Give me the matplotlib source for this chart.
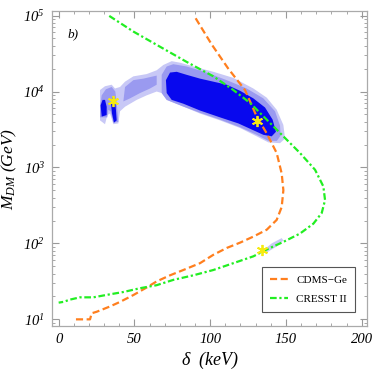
import matplotlib
matplotlib.use("Agg")
import matplotlib.pyplot as plt
import numpy as np

plt.rcParams['font.family'] = ['Liberation Serif', 'DejaVu Serif']
plt.rcParams['mathtext.fontset'] = 'custom'
plt.rcParams['mathtext.rm'] = 'Liberation Serif:italic'
plt.rcParams['mathtext.it'] = 'Liberation Serif:italic'

# ---- exclusion curves (delta in keV, M_DM in GeV) ----
cdms_delta = [90.4, 101, 112, 123, 130.7, 137.3, 143.9, 147.2, 148.3, 147.2, 143.9, 137.3,
              128.5, 119.7, 110.9, 102.1, 93.3, 82.3, 73.5, 64.7, 58.1, 49.3, 40.5, 33.9,
              25.1, 21.8, 20.7, 9.2]
cdms_logM = [4.965, 4.62, 4.30, 4.02, 3.67, 3.45, 3.19, 2.92, 2.70, 2.48, 2.31, 2.18,
             2.09, 2.01, 1.94, 1.85, 1.74, 1.65, 1.58, 1.50, 1.42, 1.32, 1.23, 1.17,
             1.10, 1.08, 1.00, 1.00]

cresst_delta = [33.4, 49.3, 66.9, 84.5, 102.1, 115.3, 126.3, 137.3, 148.3, 159.3, 169.2,
                174.7, 175.8, 173.6, 168.1, 159.3, 148.3, 137.3, 128.5, 115.3, 102.1, 88.9,
                75.7, 64.7, 53.7, 42.7, 33.9, 22.9, 14.1, 7.5, 3.1, 0.0]
cresst_logM = [4.996, 4.79, 4.59, 4.39, 4.20, 4.02, 3.85, 3.63, 3.41, 3.19, 2.97,
               2.75, 2.57, 2.40, 2.26, 2.13, 2.02, 1.92, 1.83, 1.74, 1.65, 1.58,
               1.52, 1.45, 1.41, 1.36, 1.33, 1.29, 1.29, 1.26, 1.23, 1.22]

# ---- allowed regions (contours): light (outer), medium, dark ----
outer_delta = [27.3, 27.3, 30.6, 35.0, 37.2, 40.5, 43.8, 49.3, 58.1, 64.7, 69.1, 74.6, 80.1,
               88.9, 102.1, 115.3, 128.5, 137.3, 143.9, 148.3, 149.4, 146.1, 138.4, 130.7,
               119.7, 106.5, 93.3, 80.1, 71.3, 68.0, 64.7, 58.1, 51.5, 43.8, 40.5, 39.4,
               36.1, 33.9, 32.1, 30.6]
outer_logM = [3.62, 4.02, 4.07, 4.09, 4.04, 4.06, 4.13, 4.20, 4.23, 4.28, 4.35, 4.40, 4.38,
              4.33, 4.26, 4.18, 4.04, 3.92, 3.76, 3.56, 3.38, 3.32, 3.33, 3.41,
              3.52, 3.62, 3.71, 3.82, 3.89, 3.98, 4.00, 3.95, 3.89, 3.80, 3.74, 3.58,
              3.57, 3.71, 3.69, 3.57]

mid_left_delta = [27.3, 28.4, 31.2, 35.0, 37.4, 38.3, 39.4, 36.1, 34.3, 32.8, 32.1, 27.3]
mid_left_logM = [3.80, 3.95, 4.03, 4.06, 4.00, 3.85, 3.60, 3.59, 3.74, 3.76, 3.66, 3.66]

mid_band_delta = [43.8, 49.3, 55.9, 62.5, 64.7, 64.7, 60.3, 53.7, 47.1, 42.7]
mid_band_logM = [4.06, 4.15, 4.17, 4.20, 4.21, 4.09, 4.04, 3.98, 3.91, 3.87]

mid_main_delta = [68.0, 71.3, 75.7, 84.5, 97.7, 110.9, 124.1, 135.1, 142.8, 146.1, 146.5,
                  144.0, 138.4, 130.7, 119.7, 106.5, 93.3, 81.2, 71.3, 68.0]
mid_main_logM = [4.22, 4.33, 4.36, 4.33, 4.25, 4.15, 4.04, 3.91, 3.74, 3.55, 3.42,
                 3.35, 3.35, 3.43, 3.53, 3.63, 3.72, 3.81, 3.89, 3.98]

dark_main_delta = [70.8, 73.5, 77.9, 84.5, 93.3, 102.1, 110.9, 119.7, 128.5, 136.2, 141.2,
                   143.4, 140.6, 135.1, 127.4, 118.6, 106.5, 93.3, 82.3, 74.6, 71.3]
dark_main_logM = [4.15, 4.25, 4.26, 4.22, 4.17, 4.13, 4.09, 4.01, 3.91, 3.79, 3.63,
                  3.47, 3.41, 3.43, 3.50, 3.58, 3.66, 3.75, 3.84, 3.89, 3.98]

dark_a_delta = [27.7, 29.0, 30.6, 31.7, 31.7, 28.4]
dark_a_logM = [3.82, 3.89, 3.89, 3.80, 3.69, 3.67]

dark_b_delta = [34.5, 35.6, 37.2, 37.8, 38.3, 36.5, 35.2]
dark_b_logM = [3.85, 3.93, 3.89, 3.76, 3.62, 3.59, 3.71]

patch_delta = [135.1, 140.6, 147.2, 148.3, 143.9, 137.3]
patch_logM = [1.91, 2.00, 2.07, 2.04, 1.96, 1.88]

# ---- best-fit points ----
star_delta = [35.6, 130.7, 134.4]
star_M = [7.6e3, 4.1e3, 82.0]

legend_labels = ['CDMS\u2212Ge', 'CRESST II']
xticks = [0, 50, 100, 150, 200]
yticks = [1e1, 1e2, 1e3, 1e4, 1e5]
ytick_labels = [r'$10^{1}$', r'$10^{2}$', r'$10^{3}$', r'$10^{4}$', r'$10^{5}$']

c_light = '#c8c8f6'
c_mid = '#9a9af0'
c_dark = '#0808ee'

fig = plt.figure(figsize=(3.74, 3.74), dpi=100)
ax = fig.add_axes([0.139, 0.1283, 0.8415, 0.8423])
ax.set_yscale('log')

def fill(d, lm, c):
    ax.fill(d, 10 ** np.asarray(lm), color=c, lw=0, zorder=1)

fill(outer_delta, outer_logM, c_light)
fill(patch_delta, patch_logM, c_light)
fill(mid_left_delta, mid_left_logM, c_mid)
fill(mid_band_delta, mid_band_logM, c_mid)
fill(mid_main_delta, mid_main_logM, c_mid)
fill(dark_main_delta, dark_main_logM, c_dark)
fill(dark_a_delta, dark_a_logM, c_dark)
fill(dark_b_delta, dark_b_logM, c_dark)

ax.plot(cdms_delta, 10 ** np.asarray(cdms_logM), color='#ff7f1e', lw=1.6,
        dashes=(3.2, 1.6), label=legend_labels[0], zorder=3)
ax.plot(cresst_delta, 10 ** np.asarray(cresst_logM), color='#22ee22', lw=1.6,
        dashes=(3.0, 1.2, 1.0, 1.2), label=legend_labels[1], zorder=3)

ax.plot(star_delta, star_M, linestyle='none', marker=(6, 2, 0), markersize=8,
        markeredgecolor='#f5ea10', markerfacecolor='#f5ea10', markeredgewidth=1.3, zorder=4)

ax.set_xlim(-4.4, 203.3)
ax.set_ylim(8.17, 1.15e5)
ax.set_xticks(xticks)
ax.set_xticklabels([str(t) for t in xticks])
ax.set_xticks(np.arange(0, 201, 10), minor=True)
ax.set_yticks(yticks)
ax.set_yticklabels(ytick_labels)

for lab in ax.get_xticklabels():
    lab.set_fontstyle('italic')
ax.tick_params(which='both', direction='in', top=True, right=True, color='#999999',
               labelsize=10.5, pad=5)
ax.tick_params(which='major', length=5, width=0.8)
ax.tick_params(which='minor', length=2.5, width=0.6)
for s in ax.spines.values():
    s.set_color('#aaaaaa')
    s.set_linewidth(0.9)

ax.set_xlabel(r'$\delta\ \ (keV)$', fontsize=13, labelpad=3)
ax.set_ylabel(r'$M_{DM}\ (GeV)$', fontsize=12.5, labelpad=3)
ax.text(0.05, 0.915, 'b)', transform=ax.transAxes, fontsize=9.5, fontstyle='italic')

leg = ax.legend(loc='lower right', bbox_to_anchor=(0.963, 0.044), borderaxespad=0,
                fancybox=False, framealpha=1, edgecolor='#555555', fontsize=8,
                handlelength=1.6, handletextpad=0.8, borderpad=0.7, labelspacing=0.9)
leg.get_frame().set_linewidth(0.8)

fig.savefig('out.png', dpi=100)
